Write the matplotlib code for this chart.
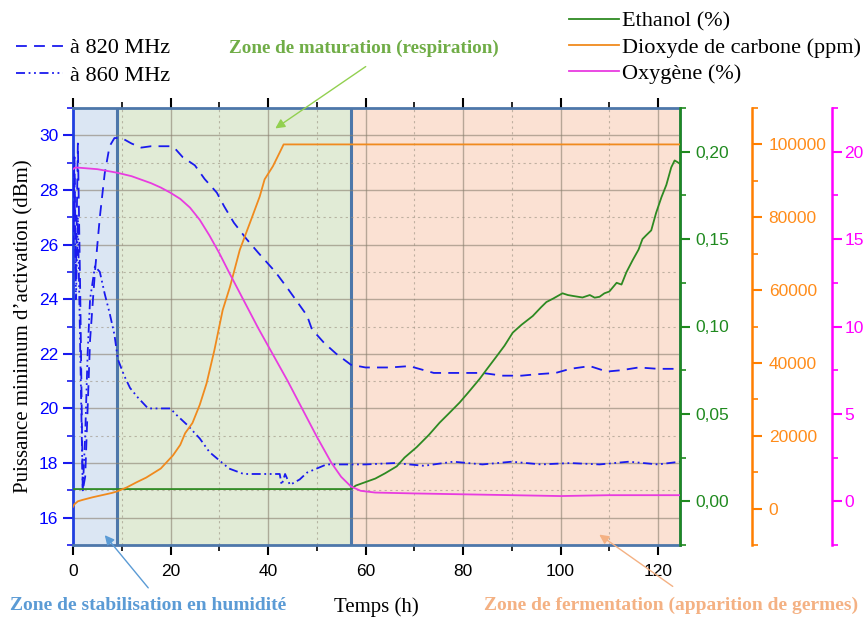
import numpy as np
import matplotlib.pyplot as plt
from matplotlib.ticker import MultipleLocator, FuncFormatter

# --- data ---
t820 = [0, 0.3, 0.6, 1.0, 1.5, 2.0, 2.5, 3.0, 3.5, 4.5, 5.5, 6.5, 7.5, 8.5, 10, 12, 14, 16, 18,
        20, 21, 22.5, 25, 27, 29.5, 31, 33, 35.6, 38, 39.5, 41.5, 44, 46, 48, 49, 51.5, 54, 57,
        60, 65, 69, 74, 80, 84, 88, 92, 95, 99, 102, 106, 109.5, 112.5, 116, 120, 124.5]
v820 = [26.5, 29.2, 25.0, 29.7, 24.0, 17.0, 17.5, 20.0, 22.5, 25.0, 27.0, 28.6, 29.6, 29.9, 29.9,
        29.7, 29.55, 29.6, 29.6, 29.6, 29.5, 29.2, 28.9, 28.4, 27.9, 27.4, 26.8, 26.2, 25.7, 25.4,
        25.0, 24.4, 23.9, 23.4, 22.9, 22.4, 22.0, 21.6, 21.5, 21.5, 21.55, 21.3, 21.3, 21.3, 21.2,
        21.2, 21.25, 21.3, 21.45, 21.55, 21.35, 21.4, 21.5, 21.45, 21.45]

t860 = [0, 0.3, 0.6, 1.0, 1.5, 2.0, 2.5, 3.0, 3.5, 4.5, 5.5, 6.5, 7.5, 8.5, 9.2, 10.5, 11.7, 13.3,
        15.4, 17, 20, 21, 23.4, 26, 28, 30, 32, 35, 40, 42.4, 42.8, 43.5, 44.5, 46.5, 48, 50, 52,
        60, 66, 72, 78, 84, 90, 96, 102, 108, 114, 120, 124.5]
v860 = [26.0, 28.5, 24.0, 27.0, 22.0, 17.0, 19.0, 22.0, 24.0, 25.2, 25.0, 24.2, 23.5, 22.7, 21.8,
        21.2, 20.75, 20.4, 20.0, 20.0, 20.0, 19.8, 19.4, 18.9, 18.4, 18.1, 17.8, 17.6, 17.6, 17.6,
        17.2, 17.6, 17.2, 17.4, 17.65, 17.8, 17.95, 17.95, 18.0, 17.9, 18.05, 17.95, 18.05, 17.95,
        18.0, 17.95, 18.05, 17.95, 18.05]

t_eth = [0, 57, 58, 60, 62, 64, 66.4, 68, 70.5, 73, 75.2, 77, 79.3, 81, 83.4, 85, 86.9, 88.5, 90.2,
         92, 94.3, 96, 97.1, 98.5, 100.4, 101.5, 102.5, 104.5, 106, 107, 108, 109, 110, 111.5,
         112.5, 113.5, 114.8, 116, 116.8, 117.5, 118.6, 119.6, 120.7, 121.7, 122.7, 123.4, 124, 124.5]
eth = [0.007, 0.007, 0.009, 0.011, 0.013, 0.016, 0.020, 0.025, 0.031, 0.038, 0.045, 0.050, 0.0565,
       0.062, 0.070, 0.076, 0.083, 0.089, 0.0965, 0.101, 0.106, 0.111, 0.114, 0.116, 0.119, 0.118,
       0.1175, 0.1166, 0.118, 0.1165, 0.117, 0.119, 0.120, 0.125, 0.124, 0.131, 0.138, 0.144,
       0.150, 0.152, 0.155, 0.165, 0.174, 0.181, 0.191, 0.195, 0.194, 0.193]

t_co2 = [0, 0.3, 1, 2, 4, 6, 8, 9, 11, 13, 15, 18, 20.5, 22, 23, 24.5, 26, 27.4, 29, 30.7, 32.2,
         34.2, 36.3, 38.3, 39.3, 41, 42.4, 43.2, 124.5]
co2 = [500, 1200, 2000, 2400, 3100, 3700, 4300, 4700, 5800, 7200, 8500, 11000, 14600, 17500,
       20700, 23500, 28500, 34400, 43500, 54500, 60900, 71000, 78500, 85700, 90400, 94000,
       97800, 100000, 100000]

t_o2 = [0, 0.5, 5, 9, 12, 16, 18, 20, 22, 24, 26, 28, 30, 32, 35, 38, 41, 44, 47, 50, 53, 55, 57,
        59, 62, 70, 80, 90, 100, 110, 120, 124.5]
o2 = [19.0, 19.1, 19.0, 18.8, 18.6, 18.2, 17.95, 17.65, 17.3, 16.8, 16.1, 15.2, 14.2, 13.1, 11.5,
      9.9, 8.4, 6.9, 5.3, 3.7, 2.2, 1.4, 0.85, 0.6, 0.5, 0.45, 0.4, 0.35, 0.3, 0.35, 0.35, 0.35]

zones = [0, 9, 57, 125]
zone_colors = ["#dbe6f3", "#e1ebd6", "#fbe1d3"]

SERIF = "Liberation Serif"
SANS = "Liberation Sans"
plt.rcParams["font.family"] = SANS

c_blue = "#1a1aee"
c_eth = "#2e8a22"
c_co2 = "#f08a1e"
c_o2 = "#e83ce0"
c_zone = "#4d77aa"

W, H = 867, 617
fig = plt.figure(figsize=(W / 100, H / 100), dpi=100)
ax = fig.add_axes([73 / W, 1 - 545 / H, 607 / W, 437 / H])

for i in range(3):
    ax.axvspan(zones[i], zones[i + 1], color=zone_colors[i], zorder=0, lw=0)
for z in zones[1:3]:
    ax.axvline(z, color=c_zone, lw=2.2, zorder=1)

ax.set_xlim(0, 124.5)
ax.set_ylim(15, 31)
ax.xaxis.set_major_locator(MultipleLocator(20))
ax.xaxis.set_minor_locator(MultipleLocator(10))
ax.yaxis.set_major_locator(MultipleLocator(2))
ax.yaxis.set_minor_locator(MultipleLocator(1))
ax.grid(which="major", color="#8a8070", alpha=0.6, lw=1.0)
ax.grid(which="minor", color="#9a9080", alpha=0.6, lw=0.8, ls=(0, (2, 3)))

(l820,) = ax.plot(t820, v820, color=c_blue, lw=1.3, dashes=(6, 4), zorder=3)
(l860,) = ax.plot(t860, v860, color=c_blue, lw=1.3, dashes=(5, 2, 1, 2, 1, 2), zorder=3)

ax.tick_params(axis="y", which="both", direction="out", colors=c_blue, labelsize=12.5)
ax.tick_params(axis="y", which="major", length=7, width=1.5)
ax.tick_params(axis="y", which="minor", length=4, width=1.2)
ax.tick_params(axis="x", which="both", direction="out", top=True, labelsize=12.5, pad=7)
ax.tick_params(axis="x", which="major", length=7, width=1.5)
ax.tick_params(axis="x", which="minor", length=4, width=1.2)
for lab in ax.get_yticklabels():
    lab.set_color("#0000ff")
ax.spines["left"].set_color("#2040e0")
ax.spines["left"].set_linewidth(2)
for s in ["top", "bottom", "right"]:
    ax.spines[s].set_color(c_zone)
    ax.spines[s].set_linewidth(2)

ax.set_ylabel("Puissance minimum d\u2019activation (dBm)", family=SERIF, fontsize=15, labelpad=4)
ax.set_xlabel("Temps (h)", family=SERIF, fontsize=15, labelpad=13)

# ethanol axis
ax2 = ax.twinx()
(leth,) = ax2.plot(t_eth, eth, color=c_eth, lw=1.3)
ax2.set_ylim(-0.025, 0.225)
ax2.yaxis.set_major_locator(MultipleLocator(0.05))
ax2.yaxis.set_minor_locator(MultipleLocator(0.025))
ax2.yaxis.set_major_formatter(FuncFormatter(lambda v, p: f"{v:.2f}".replace(".", ",")))

# CO2 axis
ax3 = ax.twinx()
(lco2,) = ax3.plot(t_co2, co2, color=c_co2, lw=1.3)
ax3.set_ylim(-10000, 110000)
ax3.yaxis.set_major_locator(MultipleLocator(20000))
ax3.yaxis.set_minor_locator(MultipleLocator(10000))
ax3.spines["right"].set_position(("axes", 1 + 72 / 607))

# O2 axis
ax4 = ax.twinx()
(lo2,) = ax4.plot(t_o2, o2, color=c_o2, lw=1.3)
ax4.set_ylim(-2.5, 22.5)
ax4.yaxis.set_major_locator(MultipleLocator(5))
ax4.yaxis.set_minor_locator(MultipleLocator(2.5))
ax4.spines["right"].set_position(("axes", 1 + 152 / 607))

for a, col, tcol, pad in [(ax2, "#1f8a1f", "#1f8a1f", 4), (ax3, "#ff7f00", "#ff8c1a", 5),
                          (ax4, "#ff00ff", "#ff00ff", 2)]:
    for s in ["top", "bottom", "left"]:
        a.spines[s].set_visible(False)
    a.spines["right"].set_color(col)
    a.spines["right"].set_linewidth(1.8)
    a.tick_params(axis="y", which="both", direction="out", color=col, labelcolor=tcol,
                  labelsize=12.5, pad=pad)
    a.tick_params(axis="y", which="major", length=7, width=1.5)
    a.tick_params(axis="y", which="minor", length=4, width=1.2)

# legends
fig.legend(handles=[l820, l860], labels=["\u00e0 820 MHz", "\u00e0 860 MHz"],
           loc="upper left", bbox_to_anchor=(7 / W, 1 - 29 / H), frameon=False,
           prop={"family": SERIF, "size": 16}, handlelength=2.1, handletextpad=0.35,
           labelspacing=0.3, borderaxespad=0)
fig.legend(handles=[leth, lco2, lo2],
           labels=["Ethanol (%)", "Dioxyde de carbone (ppm)", "Oxyg\u00e8ne (%)"],
           loc="upper left", bbox_to_anchor=(560 / W, 1 - 2 / H), frameon=False,
           prop={"family": SERIF, "size": 16}, handlelength=2.25, handletextpad=0.15,
           labelspacing=0.25, borderaxespad=0)

# zone labels and arrows
fig.text(364 / W, 1 - 48 / H, "Zone de maturation (respiration)", color="#70ad47",
         family=SERIF, weight="bold", fontsize=13.8, ha="center", va="center")
fig.text(10 / W, 1 - 605 / H, "Zone de stabilisation en humidit\u00e9", color="#5b9bd5",
         family=SERIF, weight="bold", fontsize=14, ha="left", va="center")
fig.text(858 / W, 1 - 605 / H, "Zone de fermentation (apparition de germes)", color="#f4b183",
         family=SERIF, weight="bold", fontsize=14, ha="right", va="center")

arrows = [((273, 130), (368, 65), "#92d050"),
          ((103, 533), (150, 590), "#5b9bd5"),
          ((597, 533), (675, 588), "#f4b183")]
for head, tail, col in arrows:
    ax.annotate("", xy=(head[0] / W, 1 - head[1] / H), xytext=(tail[0] / W, 1 - tail[1] / H),
                xycoords="figure fraction", textcoords="figure fraction",
                arrowprops=dict(arrowstyle="-|>", color=col, lw=1.0, mutation_scale=14),
                annotation_clip=False)

fig.savefig("out.png", dpi=100)
